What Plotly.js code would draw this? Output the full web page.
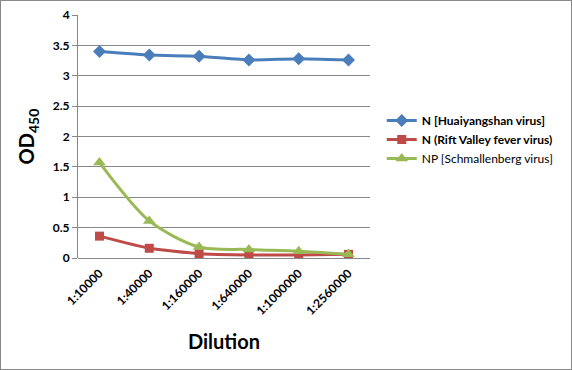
<!DOCTYPE html>
<html><head><meta charset="utf-8">
<script src="https://cdn.plot.ly/plotly-3.0.1.min.js"></script>
<style>html,body{margin:0;padding:0;background:#fff}#c{width:570px;height:368px;border:1px solid #888;}</style>
</head><body><div id="c"></div>
<script>
const categories = ["1:10000","1:40000","1:160000","1:640000","1:1000000","1:2560000"];
const huaiyangshan = [3.40, 3.34, 3.32, 3.26, 3.28, 3.26];
const riftValley = [0.36, 0.16, 0.07, 0.05, 0.05, 0.06];
const schmallenberg = [1.57, 0.61, 0.18, 0.14, 0.11, 0.06];
const seriesNames = ["<b>N [Huaiyangshan virus]</b>", "<b>N (Rift Valley fever virus)</b>", "NP [Schmallenberg virus]"];

const traces = [
  {x: categories, y: huaiyangshan, name: seriesNames[0], mode: "lines+markers",
   line: {color: "#4a7ebb", width: 3, shape: "spline", smoothing: 0.3},
   marker: {symbol: "diamond", size: 10, color: "#4a7ebb"}},
  {x: categories, y: riftValley, name: seriesNames[1], mode: "lines+markers",
   line: {color: "#be4b48", width: 3, shape: "spline", smoothing: 0.5},
   marker: {symbol: "square", size: 9, color: "#be4b48"}},
  {x: categories, y: schmallenberg, name: seriesNames[2], mode: "lines+markers",
   line: {color: "#98b954", width: 3, shape: "spline", smoothing: 0.8},
   marker: {symbol: "triangle-up", size: 11, color: "#98b954"}}
];

const layout = {
  width: 570, height: 368,
  margin: {l: 77, r: 201, t: 14, b: 111},
  paper_bgcolor: "#fff", plot_bgcolor: "#fff",
  font: {family: "Lato, 'Open Sans', sans-serif", color: "#000"},
  showlegend: true,
  legend: {xref: "container", yref: "container", x: 0.668, y: 0.715, xanchor: "left", yanchor: "top",
           font: {size: 12, family: "Lato, sans-serif"}, tracegroupgap: 0, itemwidth: 30},
  xaxis: {type: "category", tickangle: -45, tickfont: {size: 12, family: "Lato, sans-serif", weight: "bold"},
          showgrid: false, showline: false, zeroline: false, ticks: "", ticklabelstandoff: 5,
          title: {text: "<b>Dilution</b>", font: {size: 20}, standoff: 18}},
  yaxis: {range: [0, 4], dtick: 0.5, showgrid: true, gridcolor: "#888", gridwidth: 1,
          showline: true, linecolor: "#888", ticks: "outside", ticklen: 5, tickcolor: "#888",
          zeroline: true, zerolinecolor: "#888",
          tickfont: {size: 12, family: "Lato, sans-serif", weight: "bold"},
          title: {text: "<b>OD<sub>450</sub></b>", font: {size: 20}, standoff: 12}}
};
Plotly.newPlot("c", traces, layout, {displayModeBar: false, staticPlot: true});
</script></body></html>
